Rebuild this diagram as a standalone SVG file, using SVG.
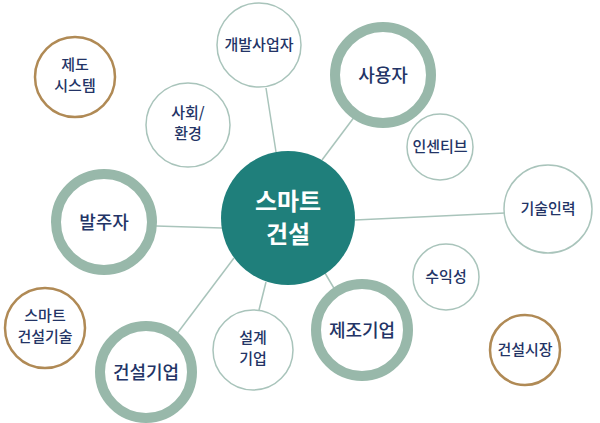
<svg xmlns="http://www.w3.org/2000/svg" width="600" height="423" viewBox="0 0 600 423">
<style>
.thin{fill:#fff;stroke:#a9c4bb;stroke-width:1.5}
.thick{fill:#fff;stroke:#98b8aa;stroke-width:10}
.brown{fill:#fff;stroke:#b08a55;stroke-width:2.5}
text{font-family:"Noto Sans CJK KR",sans-serif;fill:#233466;text-anchor:middle;font-size:15px;font-weight:500}
.big{font-size:18px}
.c{fill:#fff;font-size:24px;font-weight:bold}
line{stroke:#a9c4bb;stroke-width:1.5}
</style>
<rect width="600" height="423" fill="#fff"/>
<g id="connectors">
<line x1="276" y1="152" x2="266" y2="88"/>
<line x1="322" y1="160" x2="355" y2="116"/>
<line x1="222" y1="228" x2="156" y2="226"/>
<line x1="355" y1="220" x2="505" y2="213"/>
<line x1="322" y1="268" x2="335" y2="290"/>
<line x1="266" y1="282" x2="259" y2="310"/>
<line x1="234" y1="258" x2="176" y2="335"/>
</g>
<g id="n-dev"><circle class="thin" cx="259" cy="45" r="42"/><text x="259" y="50">개발사업자</text></g>
<g id="n-user"><circle class="thick" cx="383" cy="75" r="48"/><text class="big" x="383" y="82">사용자</text></g>
<g id="n-sys"><circle class="brown" cx="75" cy="77" r="40"/><text x="75" y="70">제도</text><text x="75" y="91">시스템</text></g>
<g id="n-soc"><circle class="thin" cx="188" cy="125" r="42"/><text x="188" y="118">사회/</text><text x="188" y="139">환경</text></g>
<g id="n-inc"><circle class="thin" cx="440" cy="147" r="33"/><text x="440" y="152">인센티브</text></g>
<g id="n-owner"><circle class="thick" cx="104" cy="222" r="48"/><text class="big" x="104" y="229">발주자</text></g>
<g id="n-tech"><circle class="thin" cx="548" cy="209" r="44"/><text x="548" y="214">기술인력</text></g>
<g id="n-profit"><circle class="thin" cx="446" cy="277" r="33"/><text x="446" y="282">수익성</text></g>
<g id="n-smarttech"><circle class="brown" cx="45" cy="328" r="40"/><text x="45" y="321">스마트</text><text x="45" y="342">건설기술</text></g>
<g id="n-design"><circle class="thin" cx="253" cy="350" r="40"/><text x="253" y="343">설계</text><text x="253" y="364">기업</text></g>
<g id="n-mfg"><circle class="thick" cx="362" cy="330" r="46"/><text class="big" x="362" y="337">제조기업</text></g>
<g id="n-const"><circle class="thick" cx="146" cy="372" r="46"/><text class="big" x="146" y="379">건설기업</text></g>
<g id="n-market"><circle class="brown" cx="525" cy="350" r="35"/><text x="525" y="355">건설시장</text></g>
<g id="n-center"><circle cx="288" cy="218" r="67" fill="#1f7f7b"/><text class="c" x="288" y="210">스마트</text><text class="c" x="288" y="243">건설</text></g>
</svg>
